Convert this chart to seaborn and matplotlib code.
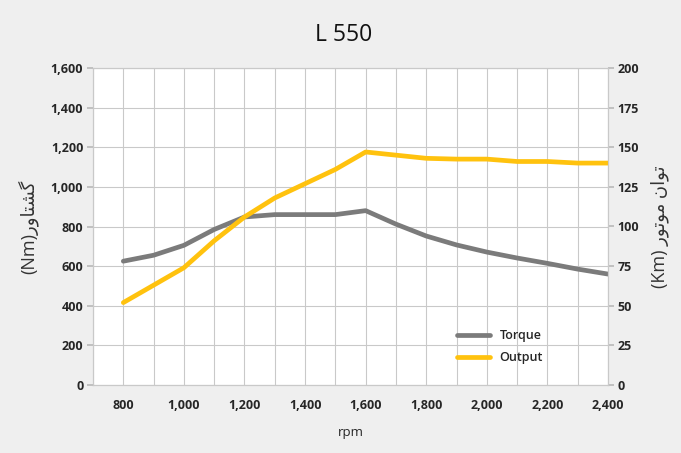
import pandas as pd
import seaborn as sns
import matplotlib.pyplot as plt
from matplotlib.ticker import FuncFormatter, MultipleLocator

rpm = [800, 900, 1000, 1100, 1200, 1300, 1400, 1500, 1600,
       1700, 1800, 1900, 2000, 2100, 2200, 2300, 2400]
torque = [625, 655, 705, 785, 848, 860, 860, 860, 880,
          812, 752, 707, 671, 641, 614, 585, 560]
output = [52, 63, 74, 91, 106, 118, 127, 136, 147,
          145, 143, 142.5, 142.5, 141, 141, 140, 140]

title = "L 550"
# Persian labels written in presentation forms (visual order), since matplotlib does not shape Arabic script
left_label = "(Nm)" + "\uFEAD\uFEED\uFE8E\uFE98\uFEB8\uFB94"      # گشتاور(Nm)
right_label = "(Km) " + "\uFEAD\uFEEE\uFE97\uFEEE\uFEE3" + " " + "\uFEE5\uFE8D\uFEEE\uFE97"  # توان موتور (Km)

data = pd.DataFrame({"rpm": rpm, "Torque": torque, "Output": output})

sns.set_theme(style="white")
plt.rcParams["font.family"] = ["Open Sans", "DejaVu Sans"]

fig = plt.figure(figsize=(6.81, 4.53), dpi=100)
fig.patch.set_facecolor("#efefef")
ax = fig.add_axes([0.1366, 0.150, 0.7562, 0.700])
ax.set_facecolor("white")
ax2 = ax.twinx()

sns.lineplot(data=data, x="rpm", y="Torque", ax=ax, color="#7b7b7b", linewidth=3.4, label="Torque", legend=False)
sns.lineplot(data=data, x="rpm", y="Output", ax=ax2, color="#ffc20e", linewidth=3.4, label="Output", legend=False)

ax.set_xlim(700, 2400)
ax.set_ylim(0, 1600)
ax2.set_ylim(0, 200)

ax.xaxis.set_major_locator(MultipleLocator(200))
ax.xaxis.set_minor_locator(MultipleLocator(100))
ax.yaxis.set_major_locator(MultipleLocator(200))
ax2.yaxis.set_major_locator(MultipleLocator(25))
comma = FuncFormatter(lambda v, p: f"{int(v):,}")
ax.xaxis.set_major_formatter(comma)
ax.yaxis.set_major_formatter(comma)

ax.grid(True, which="both", axis="x", color="#c9c9c9", linewidth=0.8)
ax.grid(True, which="major", axis="y", color="#c9c9c9", linewidth=0.8)
ax.set_axisbelow(True)
ax2.grid(False)

for a in (ax, ax2):
    for s in a.spines.values():
        s.set_color("#c9c9c9")
        s.set_linewidth(0.8)

ax.tick_params(axis="x", which="major", length=4, color="#bbbbbb", labelsize=9, pad=6)
ax.tick_params(axis="x", which="minor", length=0)
ax.tick_params(axis="y", length=4, color="#bbbbbb", labelsize=9, pad=3)
ax2.tick_params(axis="y", length=4, color="#bbbbbb", labelsize=9, pad=3)
for lab in ax.get_xticklabels() + ax.get_yticklabels() + ax2.get_yticklabels():
    lab.set_fontweight("bold")

ax.set_xlabel("rpm", fontsize=9.5, labelpad=10)
ax.set_ylabel(left_label, fontsize=13, color="#333333", labelpad=9)
ax2.set_ylabel(right_label, fontsize=13, color="#333333", rotation=90, labelpad=8)

fig.text(0.504, 0.923, title, ha="center", va="center", fontsize=16.5, color="#111111")

h1, l1 = ax.get_legend_handles_labels()
h2, l2 = ax2.get_legend_handles_labels()
leg = ax2.legend(h1 + h2, l1 + l2, loc="lower left", bbox_to_anchor=(0.685, 0.03),
                 frameon=False, handlelength=2.6, fontsize=9, labelspacing=0.75)
for t in leg.get_texts():
    t.set_fontweight("semibold")

fig.savefig("out.png", dpi=100, facecolor=fig.get_facecolor())
